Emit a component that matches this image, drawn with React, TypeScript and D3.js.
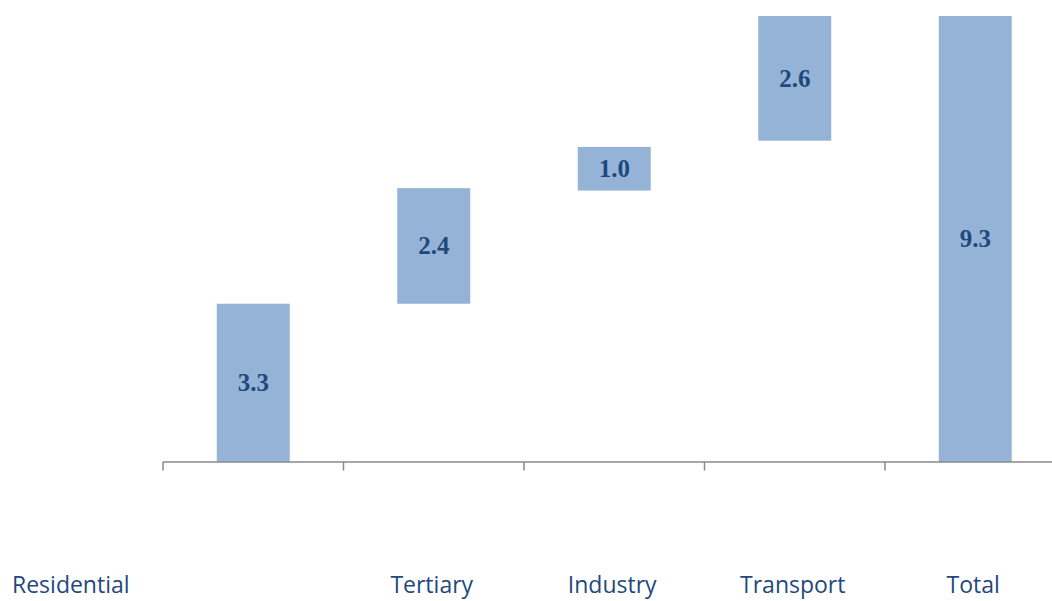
import React from "react";
import * as d3 from "d3";

const categories = ["Residential", "Tertiary", "Industry", "Transport", "Total"];
const displayValues = [3.3, 2.4, 1.0, 2.6, 9.3];
const barStarts = [0, 3.3, 5.66, 6.7, 0];
const barEnds = [3.3, 5.71, 6.57, 9.3, 9.3];

const W = 1052;
const H = 601;

export default function App() {
  const x = d3.scaleBand<string>().domain(categories).range([163, 1065.5]).paddingInner(0).paddingOuter(0);
  const y = d3.scaleLinear().domain([0, 9.3]).range([462, 16]);
  const bw = 73;
  const axisY = y(0);

  return (
    <svg width={W} height={H} style={{ position: "absolute", left: 0, top: 0, display: "block" }}>
      <rect x={0} y={0} width={W} height={H} fill="#ffffff" />
      {categories.map((c, i) => {
        const cx = (x(c) as number) + x.bandwidth() / 2;
        const y0 = y(barStarts[i]);
        const y1 = y(barEnds[i]);
        return (
          <g key={c}>
            <rect x={cx - bw / 2} y={y1} width={bw} height={y0 - y1} fill="#95B3D7" />
            <text
              x={cx}
              y={(y0 + y1) / 2}
              dy="0.33em"
              textAnchor="middle"
              fontFamily="Times New Roman, Liberation Serif, Times, serif"
              fontWeight="bold"
              fontSize={25}
              fill="#1F497D"
            >
              {d3.format(".1f")(displayValues[i])}
            </text>
          </g>
        );
      })}
      <line x1={163} x2={W} y1={axisY} y2={axisY} stroke="#898989" strokeWidth={1.5} />
      {categories.map((c) => (
        <line key={c} x1={x(c) as number} x2={x(c) as number} y1={axisY} y2={axisY + 8.5} stroke="#898989" strokeWidth={1.5} />
      ))}
      {categories.map((c, i) => {
        const cx = (x(c) as number) + x.bandwidth() / 2;
        return (
          <text
            key={c}
            x={i === 0 ? 12 : cx - 2}
            y={593}
            textAnchor={i === 0 ? "start" : "middle"}
            fontFamily="'Open Sans', 'Noto Sans', sans-serif"
            fontSize={23}
            fill="#1F497D"
          >
            {c}
          </text>
        );
      })}
    </svg>
  );
}
